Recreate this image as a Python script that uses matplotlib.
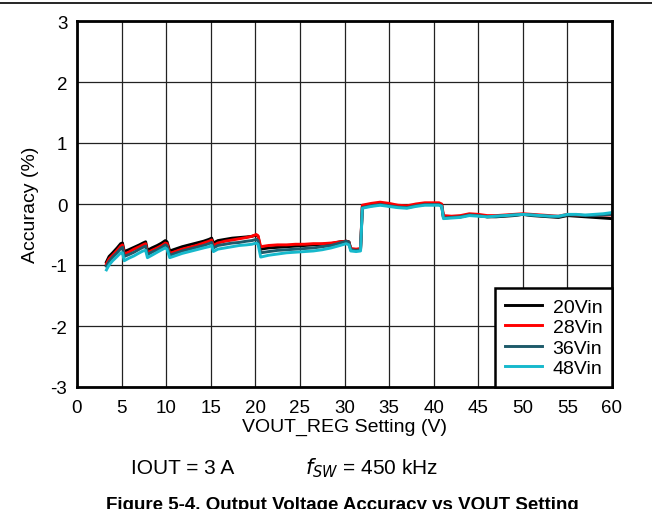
import matplotlib
matplotlib.use("Agg")
import matplotlib.pyplot as plt
from matplotlib.lines import Line2D

plt.rcParams['font.family'] = ['Liberation Sans', 'DejaVu Sans']
plt.rcParams['axes.unicode_minus'] = False

# VOUT_REG setting (V), shared by all four curves
vout = [3.3, 3.6, 4.0, 4.5, 4.9, 5.1, 5.3, 5.8, 6.4, 7.0,
        7.4, 7.7, 7.9, 8.4, 9.0, 9.5, 9.9, 10.1, 10.4, 11.0,
        11.8, 12.6, 13.4, 14.2, 14.8, 15.1, 15.3, 15.8, 16.6, 17.4,
        18.2, 19.0, 19.6, 20.1, 20.3, 20.6, 21.5, 22.5, 23.5, 24.5,
        25.5, 26.5, 27.5, 28.5, 29.5, 30.2, 30.5, 30.7, 31.3, 31.8,
        32.0, 32.3, 33.0, 34.0, 35.0, 36.0, 37.0, 38.0, 39.0, 40.0,
        40.6, 40.9, 41.1, 42.0, 43.0, 44.0, 45.0, 46.0, 47.0, 48.0,
        49.0, 50.0, 51.0, 52.0, 53.0, 54.0, 55.0, 56.0, 57.0, 58.0,
        59.0, 60.0]

# accuracy (%) per input voltage
acc_20vin = [-0.95, -0.86, -0.80, -0.72, -0.65, -0.64, -0.78, -0.75, -0.71, -0.67,
             -0.64, -0.62, -0.76, -0.72, -0.68, -0.64, -0.60, -0.62, -0.77, -0.74,
             -0.70, -0.67, -0.64, -0.61, -0.58, -0.56, -0.64, -0.60, -0.58, -0.56,
             -0.55, -0.54, -0.53, -0.51, -0.53, -0.74, -0.72, -0.71, -0.70, -0.69,
             -0.68, -0.67, -0.66, -0.65, -0.62, -0.61, -0.62, -0.74, -0.75, -0.74,
             -0.05, -0.04, -0.02, 0.00, -0.02, -0.04, -0.05, -0.02, 0.00, 0.00,
             0.00, -0.02, -0.22, -0.22, -0.21, -0.18, -0.19, -0.21, -0.21, -0.20,
             -0.19, -0.17, -0.19, -0.20, -0.21, -0.22, -0.19, -0.20, -0.21, -0.22,
             -0.23, -0.24]
acc_28vin = [-0.98, -0.90, -0.84, -0.76, -0.69, -0.67, -0.82, -0.79, -0.74, -0.70,
             -0.67, -0.65, -0.80, -0.76, -0.72, -0.68, -0.64, -0.65, -0.81, -0.78,
             -0.74, -0.71, -0.68, -0.64, -0.61, -0.59, -0.68, -0.64, -0.61, -0.59,
             -0.57, -0.55, -0.53, -0.50, -0.52, -0.70, -0.68, -0.67, -0.67, -0.66,
             -0.66, -0.65, -0.65, -0.64, -0.62, -0.61, -0.63, -0.73, -0.74, -0.73,
             -0.02, -0.01, 0.01, 0.03, 0.01, -0.02, -0.03, 0.00, 0.02, 0.02,
             0.02, 0.00, -0.19, -0.20, -0.19, -0.16, -0.17, -0.19, -0.19, -0.18,
             -0.17, -0.16, -0.17, -0.18, -0.19, -0.20, -0.17, -0.18, -0.19, -0.19,
             -0.18, -0.18]
acc_36vin = [-1.02, -0.94, -0.87, -0.80, -0.73, -0.71, -0.86, -0.83, -0.79, -0.74,
             -0.71, -0.69, -0.83, -0.79, -0.75, -0.71, -0.67, -0.69, -0.84, -0.81,
             -0.77, -0.74, -0.71, -0.68, -0.65, -0.63, -0.72, -0.68, -0.66, -0.64,
             -0.63, -0.61, -0.60, -0.58, -0.60, -0.80, -0.78, -0.76, -0.75, -0.74,
             -0.73, -0.72, -0.70, -0.68, -0.64, -0.61, -0.63, -0.75, -0.76, -0.75,
             -0.06, -0.05, -0.03, -0.01, -0.03, -0.05, -0.06, -0.03, -0.01, -0.01,
             -0.01, -0.03, -0.23, -0.22, -0.21, -0.18, -0.19, -0.21, -0.20, -0.19,
             -0.18, -0.17, -0.18, -0.19, -0.20, -0.21, -0.18, -0.18, -0.19, -0.19,
             -0.18, -0.17]
acc_48vin = [-1.08, -1.00, -0.93, -0.86, -0.80, -0.80, -0.93, -0.89, -0.85, -0.80,
             -0.77, -0.76, -0.88, -0.84, -0.79, -0.75, -0.72, -0.74, -0.88, -0.85,
             -0.81, -0.78, -0.75, -0.72, -0.70, -0.68, -0.78, -0.74, -0.72, -0.70,
             -0.68, -0.67, -0.66, -0.64, -0.66, -0.87, -0.84, -0.82, -0.80, -0.79,
             -0.78, -0.77, -0.75, -0.72, -0.68, -0.65, -0.67, -0.77, -0.78, -0.77,
             -0.07, -0.06, -0.04, -0.02, -0.04, -0.06, -0.07, -0.04, -0.02, -0.02,
             -0.02, -0.04, -0.24, -0.23, -0.22, -0.19, -0.20, -0.21, -0.20, -0.19,
             -0.18, -0.17, -0.18, -0.19, -0.20, -0.20, -0.17, -0.17, -0.18, -0.17,
             -0.16, -0.14]

series_labels = ['20Vin', '28Vin', '36Vin', '48Vin']
series_colors = ['black', '#ff0000', '#1d5a6a', '#17b9cc']

fig = plt.figure(figsize=(6.52, 5.10), dpi=100)
ax = fig.add_axes([77/652, 122/510, 535/652, 366/510])

for yy, lab, col in zip([acc_20vin, acc_28vin, acc_36vin, acc_48vin], series_labels, series_colors):
    assert len(yy) == len(vout)
    ax.plot(vout, yy, color=col, lw=2.1, label=lab)

ax.set_xlim(0, 60)
ax.set_ylim(-3, 3)
ax.set_xticks(range(0, 61, 5))
ax.set_yticks(range(-3, 4))
ax.grid(True, color='#222222', lw=0.9)
ax.set_axisbelow(True)
ax.tick_params(length=0, labelsize=13.5)
ax.tick_params(axis='x', pad=9)
ax.tick_params(axis='y', pad=7)
for s in ax.spines.values():
    s.set_linewidth(2.0)
    s.set_color('black')

ax.set_xlabel('VOUT_REG Setting (V)', fontsize=14, labelpad=1)
ax.set_ylabel('Accuracy (%)', fontsize=14, labelpad=8)

leg = ax.legend(loc='lower right', borderaxespad=0, fontsize=14, fancybox=False,
                framealpha=1, edgecolor='black', handlelength=1.9, handletextpad=0.55,
                labelspacing=0.15, borderpad=0.5)
leg.get_frame().set_linewidth(1.8)

fig.text(131/652, 36/510, 'IOUT = 3 A', fontsize=15, ha='left', va='baseline')
fig.text(305/652, 36/510, r'$f_{SW}$ = 450 kHz', fontsize=15, ha='left', va='baseline')
# caption sits at the very bottom edge, partly cut off as in the source page
fig.text(342/652, 0.5/510, 'Figure 5-4. Output Voltage Accuracy vs VOUT Setting',
         fontsize=13.5, fontweight='bold', ha='center', va='baseline')

fig.add_artist(Line2D([0, 1], [1 - 3.5/510, 1 - 3.5/510], color='black', lw=1.2,
                      transform=fig.transFigure))

fig.savefig('out.png', dpi=100)
